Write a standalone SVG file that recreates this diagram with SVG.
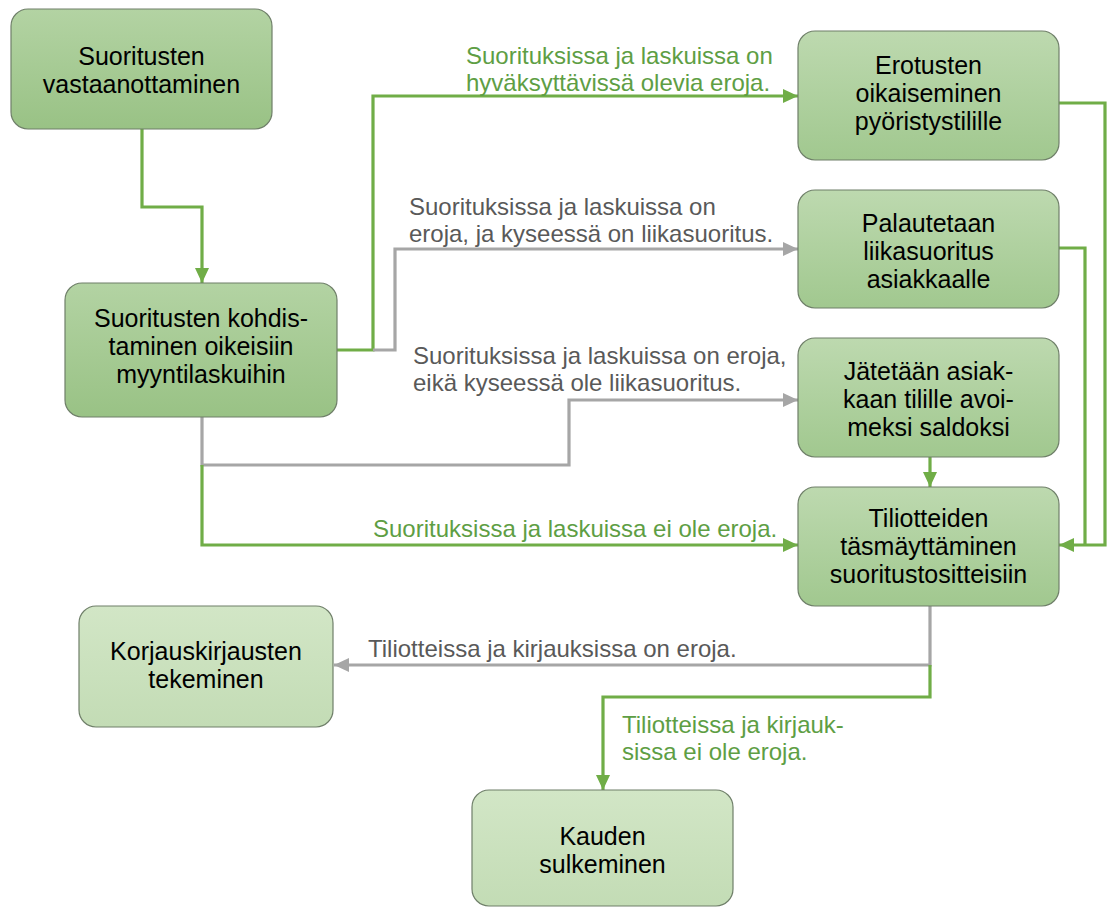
<svg xmlns="http://www.w3.org/2000/svg" width="1109" height="907" viewBox="0 0 1109 907">
<style>
.node rect{stroke:#6f7f69;stroke-width:1.2}
.nt{font-family:"Liberation Sans",Arial,sans-serif;font-size:25px;fill:#000;text-anchor:middle}
.lbl{font-family:"Liberation Sans",Arial,sans-serif;font-size:24px}
.lg{fill:#5e9e44}
.lr{fill:#595959}
.cg{fill:none;stroke:#70ad47;stroke-width:3.2}
.cr{fill:none;stroke:#a6a6a6;stroke-width:3.2}
</style>
<defs>
<linearGradient id="gDark" x1="0" y1="0" x2="0" y2="1"><stop offset="0" stop-color="#b3d3a3"/><stop offset="1" stop-color="#99c285"/></linearGradient>
<linearGradient id="gMid" x1="0" y1="0" x2="0" y2="1"><stop offset="0" stop-color="#bdd9af"/><stop offset="1" stop-color="#a1c88f"/></linearGradient>
<linearGradient id="gLight" x1="0" y1="0" x2="0" y2="1"><stop offset="0" stop-color="#d2e6c6"/><stop offset="1" stop-color="#c3dcb5"/></linearGradient>
<marker id="ag" markerUnits="userSpaceOnUse" markerWidth="16" markerHeight="14" refX="15" refY="7" orient="auto"><path d="M0,0 L15,7 L0,14 z" fill="#70ad47"/></marker>
<marker id="ar" markerUnits="userSpaceOnUse" markerWidth="16" markerHeight="14" refX="15" refY="7" orient="auto"><path d="M0,0 L15,7 L0,14 z" fill="#a6a6a6"/></marker>
</defs>
<rect width="1109" height="907" fill="#fff"/>
<g id="connectors">
<polyline class="cg" points="142,129 142,207 202,207 202,283" marker-end="url(#ag)"/>
<polyline class="cg" points="337,350 373,350 373,96 798,96" marker-end="url(#ag)"/>
<polyline class="cr" points="373,350 395,350 395,249 798,249" marker-end="url(#ar)"/>
<polyline class="cr" points="202,417 202,465 569,465 569,400 798,400" marker-end="url(#ar)"/>
<polyline class="cg" points="202,465 202,545 798,545" marker-end="url(#ag)"/>
<polyline class="cg" points="930,457 930,487" marker-end="url(#ag)"/>
<polyline class="cg" points="1059,103 1105,103 1105,545 1059,545" marker-end="url(#ag)"/>
<polyline class="cg" points="1059,248 1085,248 1085,545"/>
<polyline class="cr" points="930,606 930,665 334,665" marker-end="url(#ar)"/>
<polyline class="cg" points="930,665 930,697 603,697 603,790" marker-end="url(#ag)"/>
<text class="lbl lg" x="466" y="63.5">Suorituksissa ja laskuissa on</text>
<text class="lbl lg" x="466" y="90.5">hyväksyttävissä olevia eroja.</text>
<text class="lbl lr" x="409" y="215">Suorituksissa ja laskuissa on</text>
<text class="lbl lr" x="409" y="242">eroja, ja kyseessä on liikasuoritus.</text>
<text class="lbl lr" x="413" y="363.5">Suorituksissa ja laskuissa on eroja,</text>
<text class="lbl lr" x="413" y="390.5">eikä kyseessä ole liikasuoritus.</text>
<text class="lbl lg" x="373" y="537">Suorituksissa ja laskuissa ei ole eroja.</text>
<text class="lbl lr" x="368" y="657">Tiliotteissa ja kirjauksissa on eroja.</text>
<text class="lbl lg" x="622" y="733">Tiliotteissa ja kirjauk-</text>
<text class="lbl lg" x="622" y="760">sissa ei ole eroja.</text>
</g>
<g id="n1" class="node"><rect x="11" y="9" width="261" height="120" rx="17" fill="url(#gDark)"/><text class="nt" x="141.5" y="64.5">Suoritusten</text><text class="nt" x="141.5" y="92.5">vastaanottaminen</text></g>
<g id="n2" class="node"><rect x="65" y="283" width="272" height="134" rx="17" fill="url(#gDark)"/><text class="nt" x="201" y="327">Suoritusten kohdis-</text><text class="nt" x="201" y="355">taminen oikeisiin</text><text class="nt" x="201" y="383">myyntilaskuihin</text></g>
<g id="n3" class="node"><rect x="798" y="31" width="261" height="129" rx="17" fill="url(#gMid)"/><text class="nt" x="928.5" y="74">Erotusten</text><text class="nt" x="928.5" y="102">oikaiseminen</text><text class="nt" x="928.5" y="130">pyöristystilille</text></g>
<g id="n4" class="node"><rect x="798" y="190" width="261" height="118" rx="17" fill="url(#gMid)"/><text class="nt" x="928.5" y="232">Palautetaan</text><text class="nt" x="928.5" y="260">liikasuoritus</text><text class="nt" x="928.5" y="288">asiakkaalle</text></g>
<g id="n5" class="node"><rect x="798" y="338" width="261" height="119" rx="17" fill="url(#gMid)"/><text class="nt" x="928.5" y="380">Jätetään asiak-</text><text class="nt" x="928.5" y="408">kaan tilille avoi-</text><text class="nt" x="928.5" y="436">meksi saldoksi</text></g>
<g id="n6" class="node"><rect x="798" y="487" width="261" height="119" rx="17" fill="url(#gMid)"/><text class="nt" x="928.5" y="527">Tiliotteiden</text><text class="nt" x="928.5" y="555">täsmäyttäminen</text><text class="nt" x="928.5" y="583">suoritustositteisiin</text></g>
<g id="n7" class="node"><rect x="79" y="606" width="254" height="121" rx="17" fill="url(#gLight)"/><text class="nt" x="206" y="659.5">Korjauskirjausten</text><text class="nt" x="206" y="687.5">tekeminen</text></g>
<g id="n8" class="node"><rect x="472" y="790" width="261" height="116" rx="17" fill="url(#gLight)"/><text class="nt" x="602.5" y="844.5">Kauden</text><text class="nt" x="602.5" y="872.5">sulkeminen</text></g>
</svg>
